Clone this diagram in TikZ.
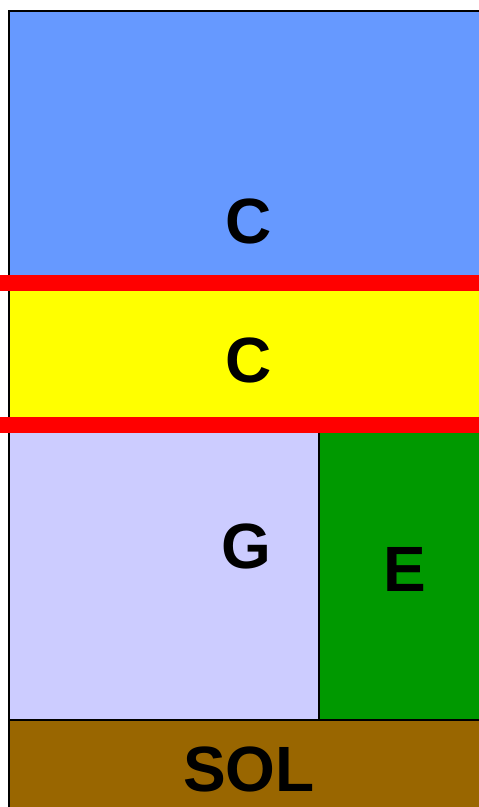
\documentclass[tikz,border=0pt]{standalone}
\usepackage{fontspec}
\setmainfont{Liberation Sans}
\definecolor{skyblue}{HTML}{6699FF}
\definecolor{lav}{HTML}{CCCCFF}
\definecolor{grn}{HTML}{009900}
\definecolor{soil}{HTML}{996600}
\definecolor{redband}{HTML}{FF0000}
\definecolor{yel}{HTML}{FFFF00}
\begin{document}
\begin{tikzpicture}[x=1pt,y=-1pt,
  lbl/.style={font=\bfseries\fontsize{64}{64}\selectfont, anchor=base, inner sep=0pt},
  edge/.style={draw=black, line width=2pt}]
\useasboundingbox (0,0) rectangle (479,807);
% layers
\fill[skyblue] (9,11) rectangle (479,283);
\fill[yel] (9,283) rectangle (479,425);
\fill[lav] (9,425) rectangle (319,719);
\fill[grn] (319,425) rectangle (479,719);
\fill[soil] (9,719) rectangle (479,807);
% black outlines
\draw[edge] (9,807) -- (9,11) -- (479,11);
\draw[edge] (9,719.5) -- (479,719.5);
\draw[edge] (319,433) -- (319,719.5);
% red bands
\fill[redband] (0,275) rectangle (479,291);
\fill[redband] (0,417) rectangle (479,433);
% labels
\node[lbl] (c1) at (248.5,243) {C};
\node[lbl] (c2) at (248.5,382) {C};
\node[lbl] (g) at (246.5,568) {G};
\node[lbl] (e) at (404.5,591) {E};
\node[lbl] (sol) at (249,791) {SOL};
\end{tikzpicture}
\end{document}
